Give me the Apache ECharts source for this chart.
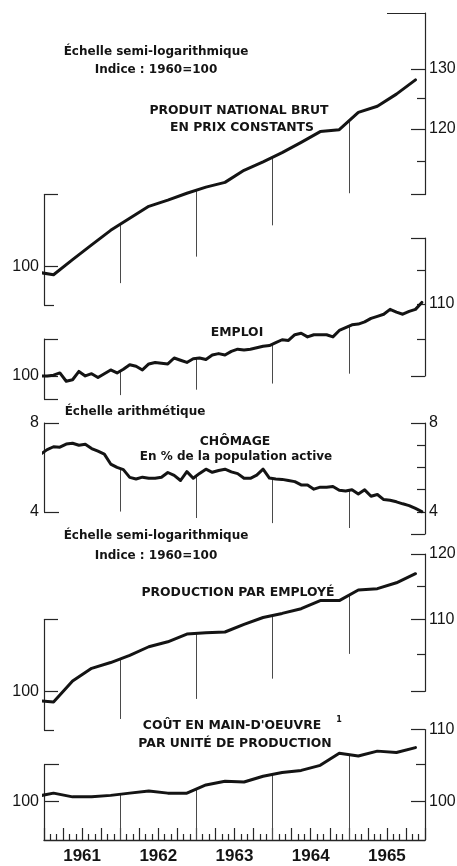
<!DOCTYPE html>
<html><head><meta charset="utf-8">
<script src="https://cdn.jsdelivr.net/npm/echarts@6/dist/echarts.min.js"></script>
<style>html,body{margin:0;padding:0;background:#fff}#c{width:457px;height:866px}</style>
</head><body><div id="c"></div>
<script>
// ---------- DATA ----------
// quarterly series: first value = T4 1960, last = T4 1965
const quarterFirst = 1960.75;
const pnb      = [99.3, 98.9, 100.9, 102.9, 104.9, 106.6, 108.3, 109.2, 110.2, 111.1, 111.8, 113.6, 114.9, 116.3, 117.9, 119.6, 119.9, 122.7, 123.7, 125.7, 128.1];
const prodEmp  = [98.8, 98.6, 101.4, 103.1, 103.9, 104.9, 106.1, 106.8, 107.9, 108.1, 108.2, 109.3, 110.3, 110.9, 111.6, 112.8, 112.8, 114.4, 114.6, 115.5, 116.9];
const coutMO   = [100.6, 101.1, 100.6, 100.6, 100.8, 101.1, 101.4, 101.1, 101.1, 102.2, 102.7, 102.6, 103.4, 103.9, 104.2, 104.9, 106.6, 106.2, 106.9, 106.7, 107.4];
// monthly series: first value = déc. 1960, last = déc. 1965
const monthFirst = 1960 + 11/12;
const emploi = [100.0,
  100.0, 100.1, 100.4, 99.3, 99.5, 100.6, 100.0, 100.3, 99.8, 100.3, 100.8, 100.4,
  100.9, 101.5, 101.3, 100.8, 101.6, 101.8, 101.7, 101.6, 102.4, 102.1, 101.8, 102.3,
  102.4, 102.2, 102.8, 103.0, 102.8, 103.3, 103.6, 103.5, 103.6, 103.8, 104.0, 104.1,
  104.5, 104.9, 104.8, 105.6, 105.8, 105.3, 105.6, 105.6, 105.6, 105.3, 106.2, 106.6,
  107.0, 107.1, 107.4, 107.9, 108.2, 108.5, 109.2, 108.8, 108.5, 108.9, 109.2, 110.2];
const chomage = [6.6,
  6.8, 6.93, 6.91, 7.05, 7.09, 7.0, 7.04, 6.85, 6.73, 6.6, 6.15, 6.0,
  5.9, 5.55, 5.48, 5.56, 5.51, 5.51, 5.56, 5.77, 5.64, 5.41, 5.81, 5.51,
  5.73, 5.92, 5.78, 5.86, 5.92, 5.80, 5.72, 5.51, 5.51, 5.65, 5.92, 5.52,
  5.48, 5.46, 5.41, 5.36, 5.21, 5.21, 5.02, 5.11, 5.11, 5.14, 4.97, 4.94,
  4.99, 4.80, 4.99, 4.70, 4.78, 4.55, 4.52, 4.45, 4.36, 4.28, 4.15, 4.01];
const yearLabels = ['1961', '1962', '1963', '1964', '1965'];
const dropYears = [1962, 1963, 1964, 1965];
// lower ends of the yearly drop lines, in each panel's units
const pnbDropEnds     = [97.8, 101.3, 105.6, 110.2];
const emploiDropEnds  = [97.5, 98.2, 99.0, 100.3];
const chomageDropEnds = [4.01, 3.72, 3.49, 3.27];
const prodDropEnds    = [96.4, 99.0, 101.7, 105.1];
const coutDropEnds    = [95, 95, 95, 95];

// ---------- HELPERS ----------
const quarterly = vals => vals.map((v, i) => [quarterFirst + (i + 0.5) / 4, v]);
const monthly = vals => vals.map((v, i) => [monthFirst + (i + 0.5) / 12, v]);
function valueAt(pts, x) {
  for (let i = 1; i < pts.length; i++) {
    if (pts[i][0] >= x) {
      const [x0, y0] = pts[i - 1], [x1, y1] = pts[i];
      return y0 + (y1 - y0) * (x - x0) / (x1 - x0);
    }
  }
  return pts[pts.length - 1][1];
}

// ---------- LAYOUT ----------
const W = 457, GL = 44, GR = 32;
const INK = '#141414', AX = '#262626';
const NUMFONT = '"Liberation Sans Narrow", "Liberation Sans", Arial, sans-serif';
const TXTFONT = '"DejaVu Sans", Verdana, sans-serif';
const panels = [
  {data: quarterly(pnb),     drops: pnbDropEnds,     top: 13,    bottom: 305, type: 'log',   min: 95, max: 140},
  {data: monthly(emploi),    drops: emploiDropEnds,  top: 238,   bottom: 399, type: 'log',   min: 97, max: 120},
  {data: monthly(chomage),   drops: chomageDropEnds, top: 423,   bottom: 534, type: 'value', min: 3,  max: 8},
  {data: quarterly(prodEmp), drops: prodDropEnds,    top: 554,   bottom: 730, type: 'log',   min: 95, max: 120},
  {data: quarterly(coutMO),  drops: coutDropEnds,    top: 729.6, bottom: 840, type: 'log',   min: 95, max: 110},
];
// tick groups: [values, length]; the first group also carries the axis line and the labels
const brackets = [
  {p: 0, side: 'right', lo: 110, hi: 140, ticks: [[[110, 120, 130], 14], [[115, 125], 8], [[140], 38]], labels: [120, 130]},
  {p: 0, side: 'left',  lo: 95,  hi: 110, ticks: [[[100, 110], 14], [[95], 10]], labels: [100]},
  {p: 1, side: 'right', lo: 100, hi: 120, ticks: [[[100, 120], 14], [[105, 110, 115], 8]], labels: [110]},
  {p: 1, side: 'left',  lo: 97,  hi: 105, ticks: [[[97, 100, 105], 14]], labels: [100]},
  {p: 2, side: 'right', lo: 3,   hi: 8,   ticks: [[[3, 8], 14], [[4, 5, 6, 7], 8]], labels: [4, 8]},
  {p: 2, side: 'left',  lo: 4,   hi: 8,   ticks: [[[4, 8], 15]], labels: [4, 8]},
  {p: 3, side: 'right', lo: 100, hi: 120, ticks: [[[100, 110, 120], 14], [[105, 115], 8]], labels: [110, 120]},
  {p: 3, side: 'left',  lo: 95,  hi: 110, ticks: [[[100, 110], 14], [[95], 10]], labels: [100]},
  {p: 4, side: 'right', lo: 95,  hi: 110, ticks: [[[100, 110], 14], [[105], 9]], labels: [100, 110]},
  {p: 4, side: 'left',  lo: 95,  hi: 105, ticks: [[[100, 105], 15]], labels: [100]},
];
function yOf(P, v) {
  const f = P.type === 'log' ? Math.log : (x => x);
  return P.bottom - (f(v) - f(P.min)) / (f(P.max) - f(P.min)) * (P.bottom - P.top);
}

const grid = [], xAxis = [], yAxis = [], series = [];
function addGrid(left, right, top, height) {
  grid.push({left: left, right: right, top: top, height: height, outerBoundsMode: 'none', containLabel: false});
  return grid.length - 1;
}
panels.forEach((P, i) => {
  const gi = addGrid(GL, GR, P.top, P.bottom - P.top);
  const last = i === panels.length - 1;
  xAxis.push({
    gridIndex: gi, type: 'value', min: 1961, max: 1966, interval: 0.25, show: last,
    axisLine: {show: true, onZero: false, lineStyle: {color: AX, width: 1.4}},
    axisTick: {show: true, inside: true, length: 12, lineStyle: {color: AX, width: 1.2}},
    minorTick: {show: true, splitNumber: 3, length: 6, lineStyle: {color: AX, width: 1.2}},
    axisLabel: {show: true, customValues: yearLabels.map(y => +y + 0.5), formatter: v => String(Math.floor(v)),
      margin: 8, fontSize: 17, fontWeight: 'bold', fontFamily: NUMFONT, color: INK},
    splitLine: {show: false}
  });
  yAxis.push({gridIndex: gi, type: P.type, logBase: 10, min: P.min, max: P.max, show: false,
    axisLine: {onZero: false}, splitLine: {show: false}});
  const dropData = dropYears.map((yr, k) => [
    {coord: [yr, valueAt(P.data, yr)]},
    {coord: [yr, P.drops[k]]}
  ]);
  series.push({
    type: 'line', xAxisIndex: gi, yAxisIndex: gi, data: P.data, showSymbol: false, silent: true,
    lineStyle: {color: INK, width: 3, join: 'round', cap: 'round'}, z: 5,
    markLine: {symbol: 'none', silent: true, animation: false, label: {show: false},
      lineStyle: {color: '#4a4a4a', width: 1, type: 'solid'}, data: dropData}
  });
});

// bracket axes, one grid per tick group; all are 'left' axes:
// left brackets sit on the plot's left edge (ticks pointing in),
// right brackets sit on a strip starting at the plot's right edge (ticks pointing left, labels right).
brackets.forEach(B => {
  const P = panels[B.p];
  const t = yOf(P, B.hi), b = yOf(P, B.lo);
  const isRight = B.side === 'right';
  const gl = isRight ? W - GR : GL;
  const gr = isRight ? 0 : GR;
  B.ticks.forEach(([vals, len], j) => {
    const gi = addGrid(gl, gr, t, b - t);
    xAxis.push({gridIndex: gi, type: 'value', show: false, min: 0, max: 1, axisLine: {onZero: false}});
    yAxis.push({
      gridIndex: gi, type: P.type, logBase: 10, min: B.lo, max: B.hi, position: 'left', splitLine: {show: false},
      axisLine: {show: j === 0, onZero: false, lineStyle: {color: AX, width: 1.2}},
      axisTick: {show: true, inside: !isRight, length: len, customValues: vals, lineStyle: {color: AX, width: 1.2}},
      axisLabel: j === 0
        ? {show: true, inside: isRight, customValues: B.labels, margin: isRight ? 4 : 5, fontSize: 16, fontFamily: NUMFONT, color: INK}
        : {show: false}
    });
  });
});

const texts = [
  {t: 'Échelle semi-logarithmique', x: 156, y: 52, s: 12},
  {t: 'Indice : 1960=100', x: 156, y: 70, s: 12},
  {t: 'PRODUIT NATIONAL BRUT', x: 239, y: 111, s: 12.4},
  {t: 'EN PRIX CONSTANTS', x: 242, y: 128, s: 12.4},
  {t: 'EMPLOI', x: 237, y: 333, s: 12.4},
  {t: 'Échelle arithmétique', x: 135, y: 412, s: 12},
  {t: 'CHÔMAGE', x: 235, y: 442, s: 12.4},
  {t: 'En % de la population active', x: 236, y: 457, s: 12},
  {t: 'Échelle semi-logarithmique', x: 156, y: 536, s: 12},
  {t: 'Indice : 1960=100', x: 156, y: 556, s: 12},
  {t: 'PRODUCTION PAR EMPLOYÉ', x: 238, y: 593, s: 12.4},
  {t: "COÛT EN MAIN-D'OEUVRE", x: 232, y: 726, s: 12.4},
  {t: '1', x: 339, y: 720, s: 8},
  {t: 'PAR UNITÉ DE PRODUCTION', x: 235, y: 744, s: 12.4},
];
const graphic = texts.map(o => ({
  type: 'text', x: o.x, y: o.y, silent: true, z: 10,
  style: {text: o.t, fill: INK, font: 'bold ' + o.s + 'px ' + TXTFONT,
    textAlign: 'center', textVerticalAlign: 'middle', align: 'center', verticalAlign: 'middle'}
}));

const chart = echarts.init(document.getElementById('c'), null, {renderer: 'canvas'});
chart.setOption({
  animation: false, backgroundColor: '#ffffff',
  grid, xAxis, yAxis, series, graphic
});
</script></body></html>
